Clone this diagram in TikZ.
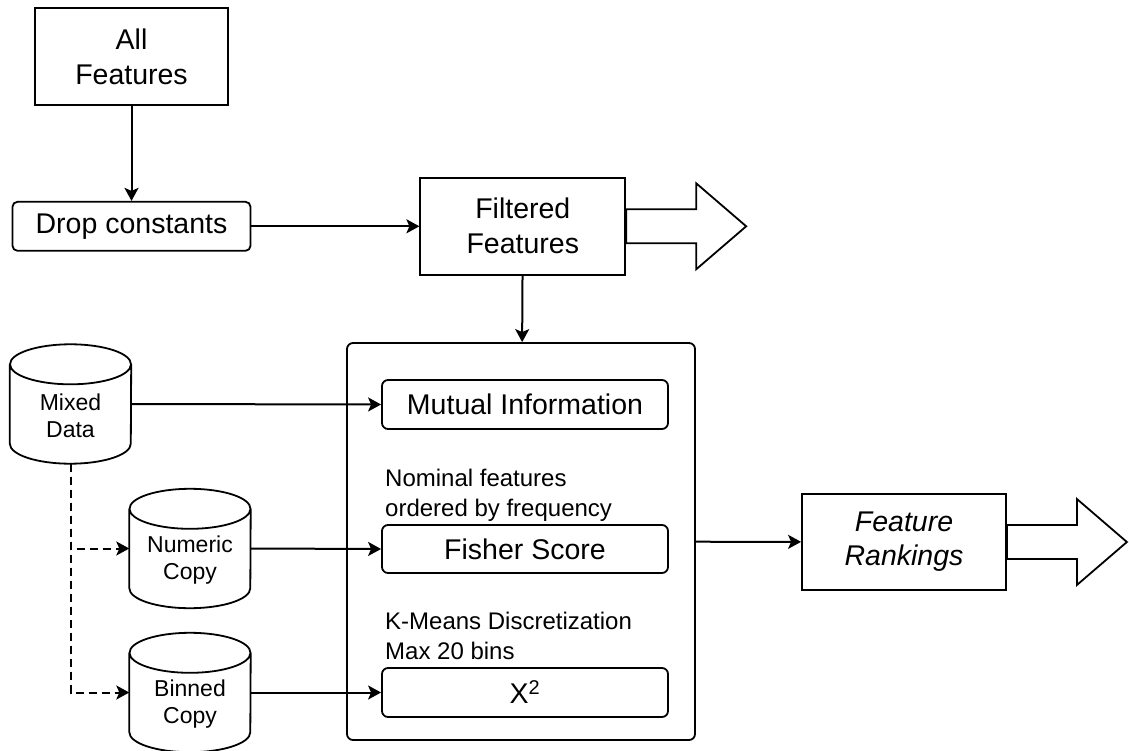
\documentclass[tikz,border=0pt]{standalone}
\usepackage{fontspec}
\setmainfont{Liberation Sans}
\usepackage{tikz}
\usetikzlibrary{arrows.meta,positioning,shapes.geometric,calc}

\begin{document}
\begin{tikzpicture}[
    x=1pt, y=-1pt,
    every node/.style={font=\fontsize{28.5}{35}\selectfont},
    box/.style={rectangle, draw, line width=1.8pt, align=center, inner sep=0pt},
    rbox/.style={box, rounded corners=6pt},
    db/.style={rectangle, minimum width=121pt, minimum height=119pt, inner sep=0pt},
    dbtext/.style={font=\fontsize{23}{27}\selectfont, align=center, yshift=-12pt},
    dbline/.style={line width=1.8pt},
    note/.style={anchor=south west, align=left, inner sep=0pt, font=\fontsize{24}{30}\selectfont},
    arr/.style={-{Stealth[length=13pt, width=14pt, inset=3pt]}, line width=2pt},
    darr/.style={arr, dash pattern=on 8pt off 5pt},
    fat/.style={draw, line width=1.8pt, fill=white}
  ]
  \useasboundingbox (0,0) rectangle (1129,751);

  %% Top row
  \node[box, minimum width=193pt, minimum height=97pt] (allf) at (131.5,56.5) {All\\Features};
  \node[rbox, minimum width=238pt, minimum height=49pt, rounded corners=5pt,
    below=95pt of allf] (drop) {Drop constants};
  \node[box, minimum width=205pt, minimum height=97pt, right=168pt of drop] (filt) {Filtered\\Features};

  %% Ranking block
  \node[rbox, minimum width=348pt, minimum height=397pt] (block) at (521,541.5) {};
  \node[rbox, minimum width=286pt, minimum height=49pt] (mi) at (525,404.5) {Mutual Information};
  \node[rbox, minimum width=286pt, minimum height=48pt] (fisher) at (525,549) {Fisher Score};
  \node[rbox, minimum width=286pt, minimum height=49pt] (chi) at (525,692.5) {X\textsuperscript{2}};
  \node[note] (nomnote) at (385,522) {Nominal features\\ordered by frequency};
  \node[note] (kmnote) at (385,660) {K-Means Discretization\\Max 20 bins};

  %% Data sources
  \node[db, label={[dbtext]center:Mixed\\Data}] (mixed) at (70.5,404) {};
  \node[db, label={[dbtext]center:Numeric\\Copy}] (numeric) at (190,548.5) {};
  \node[db, label={[dbtext]center:Binned\\Copy}] (binned) at (190,692.5) {};
  \foreach \c in {mixed, numeric, binned}
    \draw[dbline] ([yshift=-20pt]\c.north) ellipse [x radius=60.5pt, y radius=20pt]
      ([yshift=-20pt]\c.north west) -- ([yshift=20pt]\c.south west)
      arc [start angle=180, end angle=360, x radius=60.5pt, y radius=20pt]
      -- ([yshift=-20pt]\c.north east);

  %% Output
  \node[box, minimum width=204pt, minimum height=96pt, font=\fontsize{28.5}{34}\selectfont\itshape]
    (rank) at (904,542) {Feature\\Rankings};

  %% Connectors
  \draw[arr] (allf) -- (drop);
  \draw[arr] (drop) -- (filt);
  \draw[arr] (filt) -- (block);
  \draw[arr] (mixed.east) -- (mi.west);
  \draw[arr] (numeric.east) -- (fisher.west);
  \draw[arr] (binned.east) -- (chi.west);
  \draw[arr] (block) -- (rank);
  \draw[darr] (mixed.south) |- (numeric.west);
  \draw[darr] (mixed.south) |- (binned.west);

  %% Hollow arrows
  \foreach \src in {filt, rank}
    \draw[fat] (\src.east) ++(0,-17) -- ++(70,0) -- ++(0,-26) -- ++(50,43)
      -- ++(-50,43) -- ++(0,-26) -- ++(-70,0) -- cycle;

\end{tikzpicture}
\end{document}
